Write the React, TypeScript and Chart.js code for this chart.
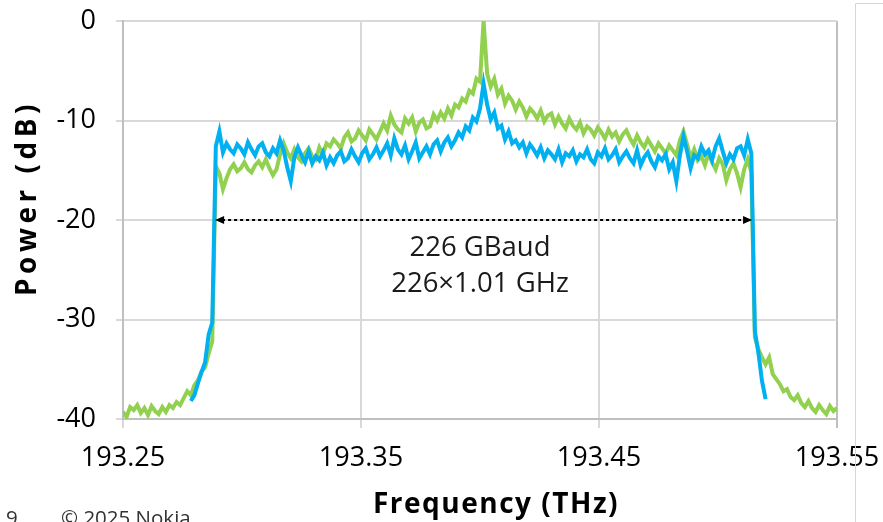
import React, { useEffect, useRef } from "react";
import { Chart, registerables } from "chart.js";

Chart.register(...registerables);

// ---- axis ticks ----
const xTicks = [193.25, 193.35, 193.45, 193.55];
const yTicks = [-40, -30, -20, -10, 0];

// ---- axis titles ----
const xTitle = "Frequency (THz)";
const yTitle = "Power (dB)";

// ---- sampling grid (THz) ----
const freqStart = 193.25;
const freqStep = 0.0015;

// ---- green trace: samples 0..200 ----
const greenPower = [
  -39.3, -39.8, -38.8, -39.1, -38.6, -39.4, -38.9, -39.6, -38.7, -39.2,
  -39.5, -38.8, -39.3, -38.6, -38.9, -38.3, -38.6, -37.9, -37.2, -37.6,
  -36.6, -36.1, -35.2, -34.8, -33.4, -32.2,
  -14.6, -15.3, -16.9, -15.8, -14.9, -14.4, -15.1, -14.8, -14.2, -14.9,
  -15.2, -14.5, -14.1, -14.7, -13.9, -14.8, -15.5, -14.9, -13.4, -12.3,
  -13.2, -13.8, -12.9, -13.7, -14.1, -13.3, -12.8, -13.6, -13.9, -12.7,
  -13.4, -12.3,
  -12.6, -11.9, -12.3, -12.8, -11.7, -11.2, -12.1, -11.8, -11.0, -11.5,
  -12.0, -10.9, -11.4, -11.9, -11.1, -10.3, -11.0, -9.5, -10.4, -10.9,
  -11.2, -9.8, -10.3, -9.7, -11.1, -10.2, -9.9, -10.8, -10.6, -9.4,
  -10.0, -9.2, -9.8, -8.8, -9.5, -8.4, -8.7, -7.8, -8.1, -7.0,
  -7.3, -5.8, -6.1,
  0,
  -5.3, -6.6, -5.8, -7.4, -6.8, -8.3, -7.5, -8.0, -8.9, -8.1,
  -8.7, -9.6, -8.8, -9.2, -9.8, -9.0, -10.1, -9.5, -9.3, -10.4,
  -9.6, -10.3, -10.8, -9.8, -10.5,
  -10.9, -10.2, -11.3, -10.6, -10.9, -11.5, -10.7, -11.2, -11.8, -10.9,
  -11.6, -11.2, -12.1, -11.4, -11.0, -11.8, -12.4, -11.5, -12.2, -12.7,
  -11.9, -12.5, -13.1, -12.3, -12.8, -13.3, -12.5, -13.0, -13.5, -12.0,
  -11.1, -12.4, -13.8, -12.9, -14.0, -13.6, -14.5, -13.3, -14.2, -14.9,
  -13.8, -14.4, -16.0, -14.9, -14.3, -15.3, -16.7, -14.9, -13.9, -15.2,
  -31.8, -33.0, -33.8, -34.5, -33.8, -35.5, -36.0, -36.5, -37.2, -37.0,
  -37.8, -38.1, -37.6, -38.4, -38.8, -38.2, -38.9, -39.3, -38.6, -39.1,
  -39.5, -38.7, -39.2, -38.9,
];

// ---- blue trace: samples 19..180 ----
const blueStartIndex = 19;
const bluePower = [
  -38.2, -37.6, -36.4, -35.3, -34.3, -31.5, -30.3,
  -12.6, -11.1, -13.2, -12.3, -12.9, -13.3, -12.4, -12.8, -13.4, -12.2,
  -12.9, -13.5, -12.6, -12.3, -13.2, -13.6, -12.8, -13.3, -12.0, -13.0,
  -14.7, -16.1, -13.7, -12.7, -13.5, -14.2, -13.1, -14.3, -13.6, -14.0,
  -13.2, -14.5,
  -13.7, -14.3, -13.5, -13.1, -14.1, -13.8, -12.9, -13.6, -14.2, -13.3,
  -12.8, -13.9, -13.4, -12.7, -13.6, -13.0, -12.3, -13.5, -11.8, -12.9,
  -13.4, -12.5, -13.9, -13.1, -12.2, -13.8, -13.2, -12.6, -13.4, -12.4,
  -12.0, -13.1, -12.2, -11.7, -12.6, -12.0, -11.2, -11.7, -10.6, -11.0,
  -9.7, -10.1, -8.8,
  -6.3,
  -8.4, -9.9, -9.2, -10.8, -10.5, -11.9, -11.1, -12.3, -12.0, -12.7,
  -12.2, -13.3, -12.4, -12.9, -13.5, -12.7, -13.8, -13.0, -13.4, -13.9,
  -12.9, -14.2, -13.3, -13.6, -13.0,
  -14.1, -13.4, -13.7, -12.9, -13.9, -14.3, -13.2, -13.6, -12.8, -13.9,
  -13.5, -12.9, -14.2, -13.6, -13.1, -13.8, -14.3, -13.0, -14.5, -13.7,
  -13.2, -14.1, -14.7, -13.6, -14.0, -13.4, -14.9, -14.2, -16.1, -13.5,
  -11.6, -13.1, -14.8, -13.5, -13.8, -12.6, -13.4, -13.0, -14.0, -12.6,
  -11.8, -13.1, -14.3, -13.4, -13.9, -12.8, -12.6, -13.5, -11.9, -13.3,
  -31.2, -33.4, -36.2, -38.0,
];

// ---- annotation ----
const arrowFreq = [193.2887, 193.5143];
const arrowPower = -20;
const labelLines = ["226 GBaud", "226×1.01 GHz"];
const labelFreq = 193.4;
const labelPower = [-22.8, -26.4];

const GREEN = "#92D050";
const BLUE = "#00B0F0";
const GRID = "#d9d9d9";
const AXIS = "#bfbfbf";

const toPoints = (vals: number[], startIdx: number) =>
  vals.map((v, i) => ({ x: freqStart + (startIdx + i) * freqStep, y: v }));

const annotPlugin = {
  id: "annot",
  afterDatasetsDraw(chart: any) {
    const { ctx } = chart;
    const xs = chart.scales.x;
    const ys = chart.scales.y;
    const x1 = xs.getPixelForValue(arrowFreq[0]);
    const x2 = xs.getPixelForValue(arrowFreq[1]);
    const yy = ys.getPixelForValue(arrowPower);
    ctx.save();
    ctx.strokeStyle = "#000";
    ctx.lineWidth = 2;
    ctx.setLineDash([3, 3]);
    ctx.beginPath();
    ctx.moveTo(x1 + 7, yy);
    ctx.lineTo(x2 - 7, yy);
    ctx.stroke();
    ctx.setLineDash([]);
    ctx.fillStyle = "#000";
    ctx.beginPath();
    ctx.moveTo(x1, yy);
    ctx.lineTo(x1 + 9, yy - 4);
    ctx.lineTo(x1 + 9, yy + 4);
    ctx.closePath();
    ctx.fill();
    ctx.beginPath();
    ctx.moveTo(x2, yy);
    ctx.lineTo(x2 - 9, yy - 4);
    ctx.lineTo(x2 - 9, yy + 4);
    ctx.closePath();
    ctx.fill();
    ctx.font = "27.5px 'Open Sans'";
    ctx.textAlign = "center";
    ctx.textBaseline = "middle";
    ctx.fillStyle = "#1a1a1a";
    labelLines.forEach((t, i) => {
      ctx.fillText(t, xs.getPixelForValue(labelFreq), ys.getPixelForValue(labelPower[i]));
    });
    ctx.restore();
  },
  afterDraw(chart: any) {
    const { ctx, chartArea } = chart;
    ctx.save();
    // axis titles
    ctx.fillStyle = "#000";
    ctx.font = "bold 28px 'Open Sans'";
    ctx.textAlign = "center";
    ctx.textBaseline = "middle";
    (ctx as any).letterSpacing = "1.5px";
    ctx.fillText(xTitle, (chartArea.left + chartArea.right) / 2 + 16, 505);
    (ctx as any).letterSpacing = "4.5px";
    ctx.save();
    ctx.translate(28, (chartArea.top + chartArea.bottom) / 2 - 22);
    ctx.rotate(-Math.PI / 2);
    ctx.fillText(yTitle, 0, 0);
    ctx.restore();
    (ctx as any).letterSpacing = "0px";
    // slide frame + footer
    ctx.strokeStyle = "#d6d6d6";
    ctx.lineWidth = 1;
    ctx.beginPath();
    ctx.moveTo(855.5, 522);
    ctx.lineTo(855.5, 3.5);
    ctx.lineTo(883, 3.5);
    ctx.stroke();
    ctx.fillStyle = "#333";
    ctx.font = "20.5px 'Open Sans'";
    ctx.textAlign = "left";
    ctx.textBaseline = "alphabetic";
    ctx.fillText("9", 6, 525);
    ctx.fillText("© 2025 Nokia", 61, 525);
    ctx.restore();
  },
};

export default function App() {
  const canvasRef = useRef<HTMLCanvasElement | null>(null);

  useEffect(() => {
    if (!canvasRef.current) return;
    const tickFont = { family: "'Open Sans'", size: 27 };
    const chart = new Chart(canvasRef.current, {
      type: "line",
      data: {
        datasets: [
          {
            label: "blue",
            data: toPoints(bluePower, blueStartIndex),
            borderColor: BLUE,
            borderWidth: 4,
            pointRadius: 0,
            tension: 0,
          },
          {
            label: "green",
            data: toPoints(greenPower, 0),
            borderColor: GREEN,
            borderWidth: 4,
            pointRadius: 0,
            tension: 0,
          },
        ],
      },
      options: {
        responsive: false,
        animation: false,
        layout: { padding: { top: 21, right: 46, left: 0, bottom: 0 }, autoPadding: false },
        plugins: { legend: { display: false }, tooltip: { enabled: false } },
        scales: {
          x: {
            type: "linear",
            min: 193.25,
            max: 193.55,
            afterBuildTicks: (s: any) => {
              s.ticks = xTicks.map((v) => ({ value: v }));
            },
            afterFit: (s: any) => {
              s.height = 103;
              s.paddingLeft = 0;
              s.paddingRight = 0;
            },
            ticks: {
              autoSkip: false,
              maxRotation: 0,
              padding: 14,
              color: "#000",
              font: tickFont,
              callback: (v: any) => Number(v).toFixed(2),
            },
            grid: {
              color: (c: any) => (c.index === xTicks.length - 1 ? AXIS : GRID),
              lineWidth: 2,
              tickLength: 9,
            },
            border: { color: AXIS, width: 2 },
          },
          y: {
            type: "linear",
            min: -40,
            max: 0,
            afterBuildTicks: (s: any) => {
              s.ticks = yTicks.map((v) => ({ value: v }));
            },
            afterFit: (s: any) => {
              s.width = 123;
              s.paddingTop = 0;
              s.paddingBottom = 0;
            },
            ticks: {
              padding: 20,
              color: "#000",
              font: tickFont,
            },
            grid: { color: GRID, lineWidth: 2, tickLength: 7 },
            border: { color: AXIS, width: 2 },
          },
        },
      },
      plugins: [annotPlugin],
    } as any);
    return () => chart.destroy();
  }, []);

  return (
    <div
      style={{
        position: "fixed",
        left: 0,
        top: 0,
        width: 883,
        height: 522,
        background: "#fff",
        overflow: "hidden",
      }}
    >
      <canvas ref={canvasRef} width={883} height={522} style={{ display: "block" }} />
    </div>
  );
}
